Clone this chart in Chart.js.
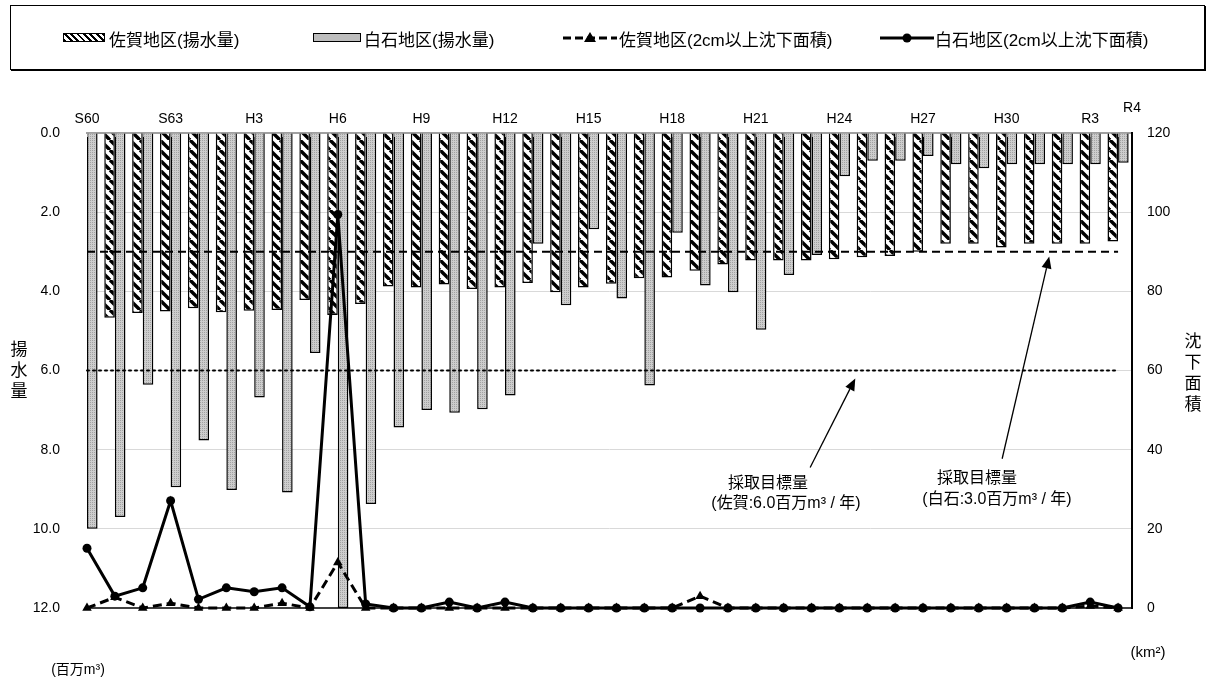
<!DOCTYPE html>
<html>
<head>
<meta charset="utf-8">
<script src="https://cdn.jsdelivr.net/npm/chart.js@4.4.1/dist/chart.umd.min.js"></script>
<style>
  body { margin: 0; background: #fff; }
  #wrap { position: relative; width: 1215px; height: 678px; font-family: 'Liberation Sans', 'Noto Sans CJK JP', sans-serif; color: #000; }
  #c { position: absolute; left: 0; top: 0; }
  .abs { position: absolute; white-space: nowrap; }
  .mid { transform: translate(-50%, -50%); }
  .vmid { transform: translateY(-50%); }
  #legend { left: 10px; top: 5px; width: 1193px; height: 63px; border: 1px solid #000; box-shadow: 1px 1px 0 #000; }
  .leg { font-size: 17px; }
  .sw { position: absolute; height: 7px; border: 1.5px solid #000; }
  .hatch { background: repeating-linear-gradient(45deg, #000 0 2px, #fff 2px 4.5px); }
  .gray { background: #bdbdbd; }
  .vt { font-size: 17px; line-height: 21px; text-align: center; width: 20px; }
  .note { font-size: 16px; }
</style>
</head>
<body>
<div id="wrap">
  <canvas id="c" width="1215" height="678"></canvas>

  <div id="legend" class="abs"></div>
  <div class="sw hatch" style="left:63px;top:33px;width:40px;"></div>
  <span class="abs leg vmid" style="left:109px;top:38px;">佐賀地区(揚水量)</span>
  <div class="sw gray" style="left:313px;top:33px;width:46px;"></div>
  <span class="abs leg vmid" style="left:364px;top:38px;">白石地区(揚水量)</span>
  <svg class="abs" style="left:562px;top:31px;" width="56" height="14">
    <line x1="1" y1="7" x2="55" y2="7" stroke="#000" stroke-width="3" stroke-dasharray="8 4"/>
    <polygon points="28,1 34,11 22,11" fill="#000"/>
  </svg>
  <span class="abs leg vmid" style="left:619px;top:38px;">佐賀地区(2cm以上沈下面積)</span>
  <svg class="abs" style="left:879px;top:31px;" width="56" height="14">
    <line x1="1" y1="7" x2="55" y2="7" stroke="#000" stroke-width="3"/>
    <circle cx="28" cy="7" r="4.5" fill="#000"/>
  </svg>
  <span class="abs leg vmid" style="left:935px;top:38px;">白石地区(2cm以上沈下面積)</span>

  <div class="abs vt" style="left:9px;top:339px;">揚<br>水<br>量</div>
  <div class="abs vt" style="left:1183px;top:331px;">沈<br>下<br>面<br>積</div>
  <span class="abs mid" style="left:78px;top:668px;font-size:14px;">(百万m³)</span>
  <span class="abs mid" style="left:1148px;top:651px;font-size:15px;">(km²)</span>

  <span class="abs mid note" style="left:768px;top:481px;">採取目標量</span>
  <span class="abs mid note" style="left:786px;top:501px;">(佐賀:6.0百万m³ / 年)</span>
  <span class="abs mid note" style="left:977px;top:476px;">採取目標量</span>
  <span class="abs mid note" style="left:997px;top:497px;">(白石:3.0百万m³ / 年)</span>
</div>

<script>
// 年度 (S60 ～ R4)
const years = ['S60','S61','S62','S63','H1','H2','H3','H4','H5','H6','H7','H8','H9','H10','H11','H12','H13','H14','H15','H16','H17','H18','H19','H20','H21','H22','H23','H24','H25','H26','H27','H28','H29','H30','R1','R2','R3','R4'];

// 揚水量 (百万m3)
const sagaPump = [4.70,4.67,4.55,4.51,4.43,4.53,4.49,4.47,4.22,4.60,4.32,3.88,3.90,3.83,3.94,3.90,3.79,4.02,3.90,3.81,3.67,3.65,3.48,3.32,3.22,3.22,3.22,3.19,3.14,3.11,3.00,2.80,2.80,2.89,2.80,2.80,2.80,2.74];
const shiroishiPump = [10.00,9.70,6.36,8.95,7.77,9.02,6.68,9.08,5.56,12.00,9.37,7.44,7.00,7.07,6.98,6.63,2.80,4.35,2.43,4.18,6.38,2.52,3.85,4.02,4.97,3.59,3.08,1.09,0.70,0.70,0.58,0.79,0.89,0.79,0.79,0.79,0.79,0.75];

// 2cm以上沈下面積 (km2)
const sagaArea = [0,2.7,0,1.2,0,0,0,1.2,0,11.5,0,0,0,0,0,0,0,0,0,0,0,0,3.0,0,0,0,0,0,0,0,0,0,0,0,0,0,0.5,0];
const shiroishiArea = [15.1,3.0,5.1,27.1,2.2,5.1,4.1,5.1,0.3,99.4,1.0,0,0,1.5,0,1.5,0,0,0,0,0,0,0,0,0,0,0,0,0,0,0,0,0,0,0,0,1.5,0];

// 採取目標量
const sagaTarget = 6.0;
const shiroishiTarget = 3.0;

// 矢印 (x:年度インデックス, y:揚水量軸)
const arrows = [
  { from: [25.95, 8.45], to: [27.57, 6.2] },
  { from: [32.84, 8.23], to: [34.53, 3.12] }
];

const topLabelEvery = 3;

function hatchPattern() {
  const p = document.createElement('canvas');
  p.width = 10; p.height = 10;
  const g = p.getContext('2d');
  g.fillStyle = '#fff';
  g.fillRect(0, 0, 10, 10);
  g.strokeStyle = '#000';
  g.lineWidth = 3.4;
  [-10, 0, 10].forEach(k => {
    g.beginPath(); g.moveTo(k, 0); g.lineTo(k + 10, 10); g.stroke();
  });
  return g.createPattern(p, 'repeat');
}

function grayPattern() {
  const p = document.createElement('canvas');
  p.width = 2; p.height = 2;
  const g = p.getContext('2d');
  g.fillStyle = '#cdcdcd';
  g.fillRect(0, 0, 2, 2);
  g.fillStyle = '#a2a2a2';
  g.fillRect(0, 0, 1, 1);
  return g.createPattern(p, 'repeat');
}

const xy = arr => arr.map((v, i) => ({ x: i, y: v }));

const overlay = {
  id: 'overlay',
  afterDatasetsDraw(chart) {
    const { ctx, chartArea: a, scales: { x, y } } = chart;
    ctx.save();
    // 目盛 (上)
    ctx.strokeStyle = '#a0a0a0';
    ctx.lineWidth = 1;
    years.forEach((_, i) => {
      const px = Math.round(x.getPixelForValue(i)) + 0.5;
      ctx.beginPath(); ctx.moveTo(px, a.top); ctx.lineTo(px, a.top + 4); ctx.stroke();
    });
    // 目標量ライン
    const x0 = x.getPixelForValue(0), x1 = x.getPixelForValue(years.length - 1);
    ctx.strokeStyle = '#000';
    ctx.lineWidth = 2;
    ctx.setLineDash([8, 5]);
    ctx.beginPath(); ctx.moveTo(x0, y.getPixelForValue(shiroishiTarget)); ctx.lineTo(x1, y.getPixelForValue(shiroishiTarget)); ctx.stroke();
    ctx.setLineDash([2, 4]);
    ctx.lineCap = 'round';
    ctx.beginPath(); ctx.moveTo(x0, y.getPixelForValue(sagaTarget)); ctx.lineTo(x1, y.getPixelForValue(sagaTarget)); ctx.stroke();
    ctx.setLineDash([]);
    ctx.lineCap = 'butt';
    // 矢印
    ctx.lineWidth = 1.3;
    ctx.fillStyle = '#000';
    arrows.forEach(ar => {
      const fx = x.getPixelForValue(ar.from[0]), fy = y.getPixelForValue(ar.from[1]);
      const tx = x.getPixelForValue(ar.to[0]), ty = y.getPixelForValue(ar.to[1]);
      const ang = Math.atan2(ty - fy, tx - fx);
      const hl = 12, hw = 5;
      const bx = tx - hl * Math.cos(ang), by = ty - hl * Math.sin(ang);
      ctx.beginPath(); ctx.moveTo(fx, fy); ctx.lineTo(bx, by); ctx.stroke();
      ctx.beginPath();
      ctx.moveTo(tx, ty);
      ctx.lineTo(bx + hw * Math.sin(ang), by - hw * Math.cos(ang));
      ctx.lineTo(bx - hw * Math.sin(ang), by + hw * Math.cos(ang));
      ctx.closePath(); ctx.fill();
    });
    // 下枠
    ctx.lineWidth = 1.5;
    ctx.beginPath(); ctx.moveTo(a.left, a.bottom); ctx.lineTo(a.right, a.bottom); ctx.stroke();
    // R4 ラベル
    ctx.font = '14px "Liberation Sans"';
    ctx.textAlign = 'center';
    ctx.textBaseline = 'middle';
    ctx.fillText(years[years.length - 1], a.right, a.top - 25);
    ctx.restore();
  }
};

new Chart(document.getElementById('c'), {
  type: 'bar',
  data: {
    datasets: [
      { type: 'line', label: '佐賀地区(2cm以上沈下面積)', data: xy(sagaArea), yAxisID: 'y2', order: 0,
        borderColor: '#000', borderWidth: 3, borderDash: [9, 5], pointStyle: 'triangle', pointRadius: 5.5,
        pointBackgroundColor: '#000', pointBorderColor: '#000', pointBorderWidth: 0, clip: false },
      { type: 'line', label: '白石地区(2cm以上沈下面積)', data: xy(shiroishiArea), yAxisID: 'y2', order: 0,
        borderColor: '#000', borderWidth: 3, pointStyle: 'circle', pointRadius: 4.5,
        pointBackgroundColor: '#000', pointBorderColor: '#000', pointBorderWidth: 0, clip: false },
      { label: '佐賀地区(揚水量)', data: xy(sagaPump), yAxisID: 'y', order: 1,
        backgroundColor: hatchPattern(), borderColor: '#000', borderWidth: 1.5,
        categoryPercentage: 0.76, barPercentage: 1.0 },
      { label: '白石地区(揚水量)', data: xy(shiroishiPump), yAxisID: 'y', order: 1,
        backgroundColor: grayPattern(), borderColor: '#000', borderWidth: 1.5,
        categoryPercentage: 0.76, barPercentage: 1.0 }
    ]
  },
  options: {
    responsive: false,
    animation: false,
    layout: { padding: { left: 0, right: 0, top: 0, bottom: 70 } },
    plugins: { legend: { display: false }, tooltip: { enabled: false } },
    scales: {
      x: {
        type: 'linear', position: 'top', min: 0, max: years.length - 0.5, offset: false,
        afterBuildTicks: s => { s.ticks = years.map((_, i) => ({ value: i })); },
        afterFit: s => { s.height = 133; },
        grid: { drawOnChartArea: false, drawTicks: false },
        border: { color: '#a0a0a0', width: 2 },
        ticks: {
          autoSkip: false, maxRotation: 0, padding: 5, color: '#000',
          font: { family: 'Liberation Sans', size: 14 },
          callback: v => (v % topLabelEvery === 0 && v < years.length - 1) ? years[v] : ''
        }
      },
      y: {
        position: 'left', reverse: true, min: 0, max: 12,
        afterFit: s => { s.width = 87; },
        grid: { color: c => (c.tick.value === 0 || c.tick.value === 12) ? 'rgba(0,0,0,0)' : '#d9d9d9', drawTicks: false, lineWidth: 1 },
        border: { display: false },
        ticks: { stepSize: 2, padding: 27, color: '#000', font: { family: 'Liberation Sans', size: 14 },
          callback: v => v.toFixed(1) }
      },
      y2: {
        position: 'right', min: 0, max: 120,
        afterFit: s => { s.width = 83; },
        grid: { display: false, drawTicks: false },
        border: { color: '#000', width: 2 },
        ticks: { stepSize: 20, padding: 15, color: '#000', font: { family: 'Liberation Sans', size: 14 } }
      }
    }
  },
  plugins: [overlay]
});
</script>
</body>
</html>
